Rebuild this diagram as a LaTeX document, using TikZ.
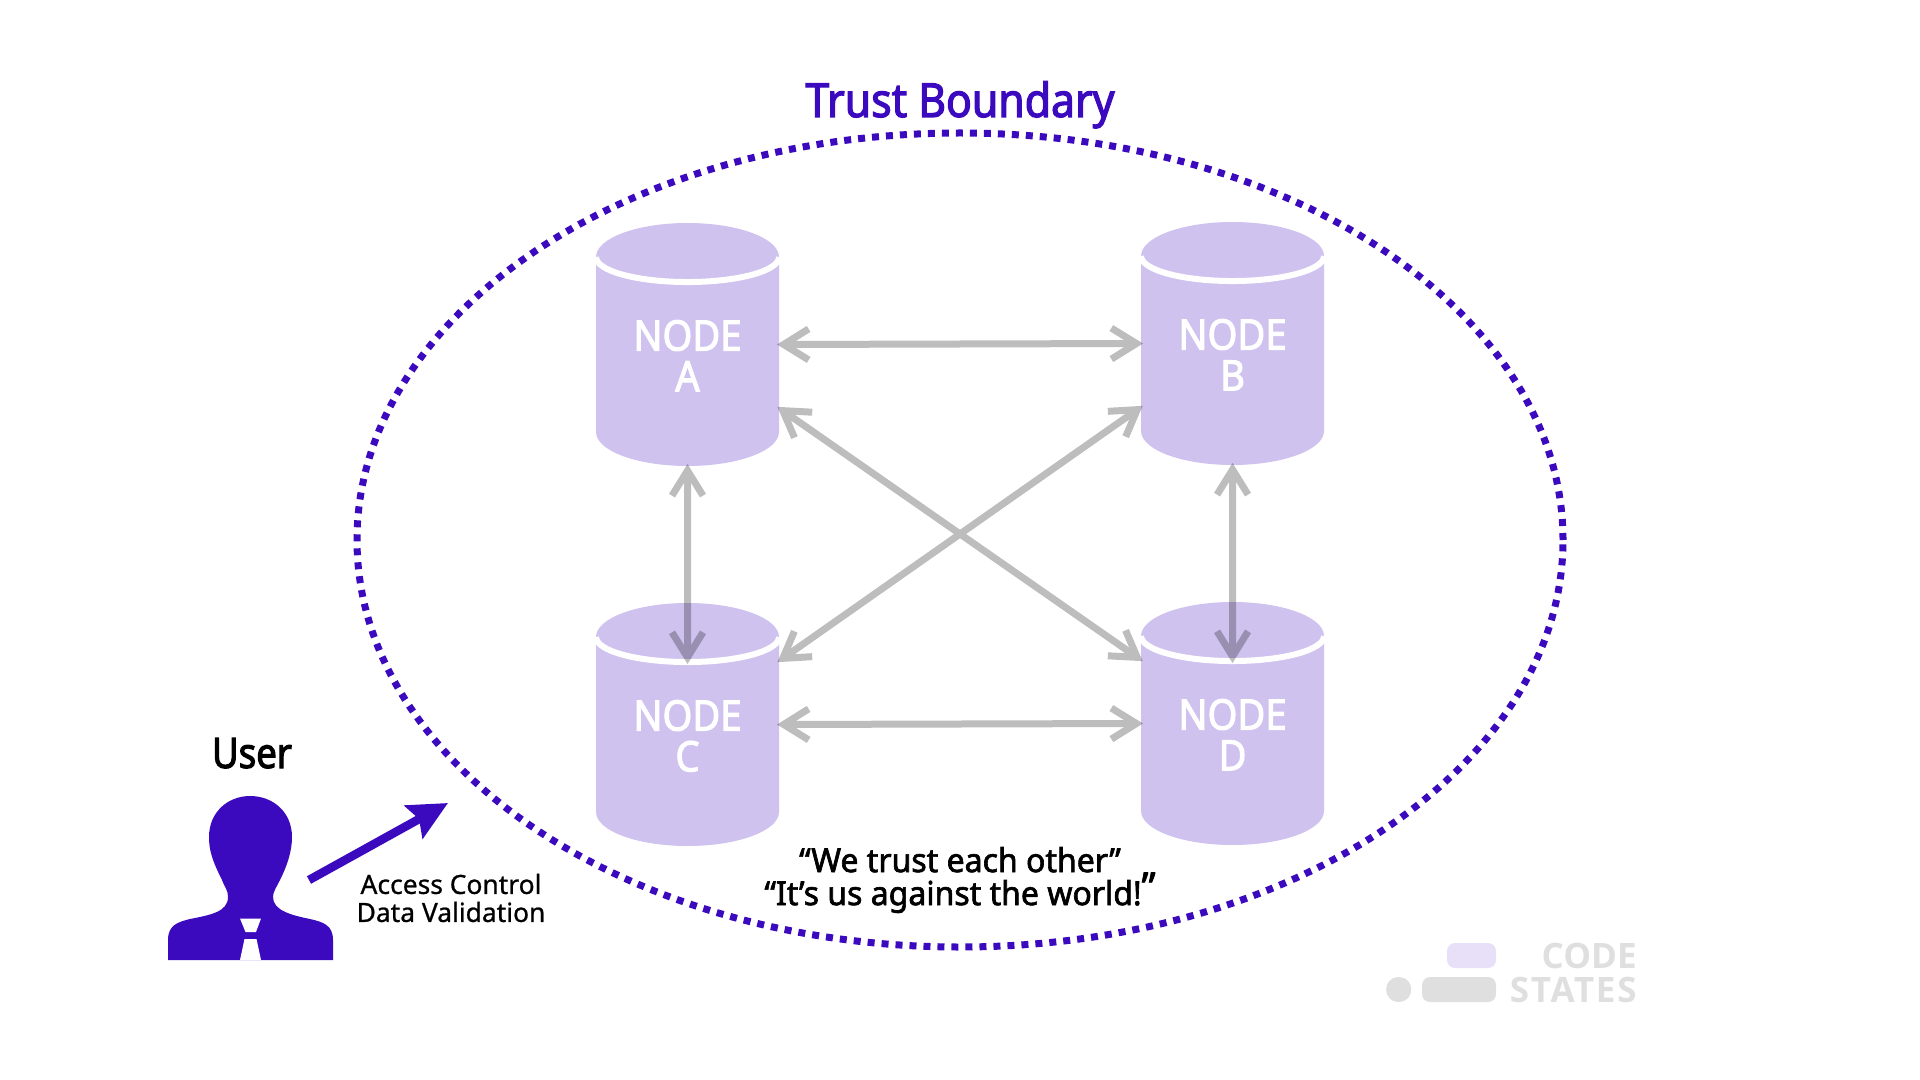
\documentclass[tikz,border=0pt]{standalone}
\usepackage{fontspec}
\setmainfont{Noto Sans}[FakeBold=.8]
\newfontfamily\headfont{Noto Sans}[FakeStretch=.91,FakeBold=2.5]
\newfontfamily\userfont{Noto Sans}[FakeStretch=.87,FakeBold=2.5]
\newfontfamily\mottofont{Noto Sans}[FakeStretch=.97,FakeBold=2]
\newfontfamily\logofont{Open Sans}
\newfontfamily\logowidefont{Open Sans}[LetterSpace=5]
\usetikzlibrary{positioning,arrows.meta,shapes.geometric}
\definecolor{trustblue}{HTML}{3C0ABE}
\definecolor{nodefill}{HTML}{CFC2EF}
\definecolor{logogray}{HTML}{DFDFDF}
\definecolor{logoviolet}{HTML}{E7E0F8}

\begin{document}
\begin{tikzpicture}
    [ x = .5pt, y = -.5pt
    , store/.style =
      { cylinder, shape border rotate=90, aspect=.63, fill=nodefill, text=white
      , minimum width=91.5pt, minimum height=121.5pt, inner sep=0pt, outer sep=0pt
      , align=center, font=\headfont\fontsize{21pt}{20.4pt}\selectfont
      , execute at end node={\rule[-6pt]{0pt}{0pt}} }
    , rim/.style =
      { white, line width=3pt }
    , link/.style =
      { black, line width=3.5pt, shorten <=-1pt, shorten >=-1pt
      , {Straight Barb[length=12.5pt,width=15.5pt]}-{Straight Barb[length=12.5pt,width=15.5pt]} }
    , boundary/.style =
      { draw=trustblue, line width=3.5pt, dash pattern=on 3.5pt off 3.5pt }
    , caption/.style =
      { inner sep=0pt, align=center, text=black }
    , logobar/.style =
      { rounded corners=4pt, fill=logogray, draw=none, inner sep=0pt }
    , logotext/.style =
      { inner sep=0pt, text=logogray, anchor=base east }
    ]
    \useasboundingbox (0,0) rectangle (1920,1080);

    \draw [boundary] (960,540) ellipse [x radius=301.5pt, y radius=203.5pt];
    \node [caption, anchor=base, text=trustblue, font=\headfont\fontsize{23.5pt}{24pt}\selectfont] (title) at (960,117) {Trust Boundary};

    \node [store, anchor=shape center] (a) at (687.5,344.5) {NODE\\A};
    \node [store] (b) [right=181pt of a, yshift=.5pt] {NODE\\B};
    \node [store] (c) [below=68.5pt of a] {NODE\\C};
    \node [store] (d) [below=68.5pt of b] {NODE\\D};

    \foreach \n in {a,b,c,d} {
      \draw [rim] (\n.before top) arc [start angle=180, end angle=360, x radius=45.75pt, y radius=12.5pt];
      \coordinate (\n-left) at (\n.shape center -| \n.west);
      \coordinate (\n-right) at (\n.shape center -| \n.east);
    }

    \begin{scope}[transparency group, opacity=.26]
      \draw [link] (a-right) -- (b-left);
      \draw [link] (c-right) -- (d-left);
      \draw [link] (a.south) -- ([yshift=-29.5pt]c.north);
      \draw [link] (b.south) -- ([yshift=-29.5pt]d.north);
      \draw [link] ([yshift=-31.75pt]a-right) -- ([yshift=31.75pt]d-left);
      \draw [link] ([yshift=31.75pt]c-right) -- ([yshift=-31.75pt]b-left);
    \end{scope}

    \node [caption, font=\mottofont\fontsize{16.5pt}{16.5pt}\selectfont] (motto) at (960,880) {“We trust each other”\\“It’s us against the world!\raisebox{2pt}{\fontsize{20pt}{20pt}\selectfont ”}};

    % user figure
    \fill [trustblue] (168,960) -- (168,940) .. controls (168,925) and (178,922) .. (190,919)
      .. controls (210,915) and (228,912) .. (228,897) .. controls (228,890) and (225,888) .. (222,880)
      .. controls (212,860) and (209,850) .. (209,837) .. controls (209,812) and (228,796) .. (250,796)
      .. controls (273,796) and (292,812) .. (292,837) .. controls (292,850) and (288,864) .. (280,880)
      .. controls (276,888) and (273,892) .. (273,897) .. controls (273,910) and (290,915) .. (310,919)
      .. controls (323,922) and (333,925) .. (333,940) -- (333,960) -- cycle;
    \fill [white] (240,918.5) -- (261,918.5) -- (256,932) -- (245.5,932) -- cycle;
    \fill [white] (244.5,939) -- (256.5,939) -- (261,960) -- (240,960) -- cycle;
    \node [caption, anchor=base, font=\userfont\fontsize{21pt}{22pt}\selectfont] (user) at (252,768) {User};

    \coordinate (from) at (309,880);
    \coordinate (to) at (448,803);
    \draw [trustblue, line width=4.3pt, -{Stealth[length=19.5pt,width=18.5pt,inset=3pt]}] (from) -- (to);
    \node [caption, font=\fontsize{13.2pt}{14pt}\selectfont] (access) at (451,898) {Access Control\\Data Validation};

    % logo
    \node [logobar, fill=logoviolet, minimum width=24.5pt, minimum height=12.5pt] (bar) at (1471.5,955.5) {};
    \node [logobar, minimum width=37pt, minimum height=12.5pt] (pill) at (1459,989.5) {};
    \node [logobar, rounded corners=6pt, minimum size=12.5pt] (dot) [left=5pt of pill] {};
    \node [logotext, font=\logofont\bfseries\fontsize{17.5pt}{17.5pt}\selectfont] (code) at (1637,968) {CODE};
    \node [logotext, font=\logowidefont\bfseries\fontsize{17.5pt}{17.5pt}\selectfont] (states) at (1637,1002) {STATES};
  \end{tikzpicture}
\end{document}
